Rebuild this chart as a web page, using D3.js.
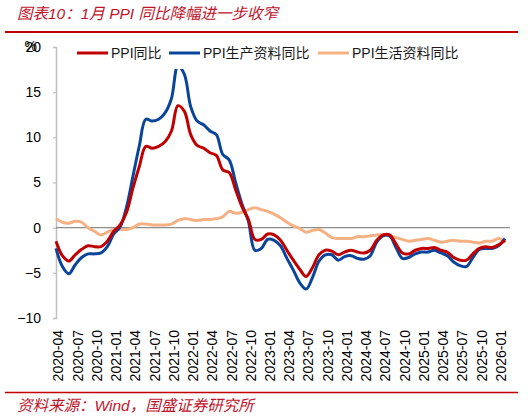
<!DOCTYPE html>
<html>
<head>
<meta charset="utf-8">
<script src="https://cdn.jsdelivr.net/npm/d3@7"></script>
<style>
    body { margin: 0; background: #fff; }
    svg { display: block; font-family: "Liberation Sans", "Noto Sans CJK SC", sans-serif; }
</style>
</head>
<body>
<div id="chart"></div>
<script>
// monthly categories 2020-03 .. 2026-01
const months = d3.timeMonths(new Date(2020, 2, 1), new Date(2026, 1, 1)).map(d3.timeFormat("%Y-%m"));

const tickLabels = ["2020-04", "2020-07", "2020-10", "2021-01", "2021-04", "2021-07", "2021-10",
    "2022-01", "2022-04", "2022-07", "2022-10", "2023-01", "2023-04", "2023-07", "2023-10",
    "2024-01", "2024-04", "2024-07", "2024-10", "2025-01", "2025-04", "2025-07", "2025-10", "2026-01"];

const yTicks = [-10, -5, 0, 5, 10, 15, 20];

const seriesNames = ["PPI同比", "PPI生产资料同比", "PPI生活资料同比"];
const seriesColors = ["#c00000", "#0b4599", "#f5b183"];

const ppi = [
    -1.5, -3.1, -3.7, -3.0, -2.4, -2.0, -2.1, -2.1, -1.5, -0.4,
    0.3, 1.7, 4.4, 6.8, 9.0, 8.8, 9.0, 9.5, 10.7, 13.5, 12.9, 10.3,
    9.1, 8.8, 8.3, 8.0, 6.4, 6.1, 4.2, 2.3, 0.9, -1.3, -1.3, -0.7,
    -0.8, -1.4, -2.5, -3.6, -4.6, -5.4, -4.4, -3.0, -2.5, -2.6, -3.0, -2.7,
    -2.5, -2.7, -2.8, -2.5, -1.4, -0.8, -0.8, -1.8, -2.8, -2.9, -2.5, -2.3,
    -2.3, -2.2, -2.5, -2.7, -3.3, -3.6, -3.6, -2.9, -2.3, -2.1, -2.2, -1.9,
    -1.4
];

const producer = [
    -2.3, -4.3, -5.1, -4.1, -3.3, -2.9, -2.9, -2.8, -2.1, -0.7,
    0.1, 2.3, 5.7, 9.1, 12.0, 11.8, 12.0, 12.7, 14.3, 17.9, 17.0, 13.4,
    11.8, 11.4, 10.7, 10.3, 8.1, 7.5, 5.0, 2.6, 0.7, -2.5, -2.3, -1.3,
    -1.4, -2.0, -3.4, -4.7, -6.1, -6.8, -5.5, -3.7, -3.0, -3.0, -3.6, -3.2,
    -3.1, -3.4, -3.5, -3.1, -1.6, -0.9, -0.9, -2.2, -3.4, -3.3, -2.9, -2.7,
    -2.7, -2.5, -2.8, -3.1, -3.8, -4.2, -4.3, -3.3, -2.4, -2.3, -2.3, -2.0,
    -1.2
];

const consumer = [
    1.0, 0.6, 0.5, 0.7, 0.6, 0.0, -0.4, -0.8, -0.5, -0.2,
    -0.2, -0.2, 0.0, 0.4, 0.4, 0.3, 0.3, 0.3, 0.4, 0.8, 1.0, 0.9,
    0.8, 0.9, 0.9, 1.0, 1.2, 1.8, 1.6, 1.7, 2.0, 2.2, 2.0, 1.8,
    1.5, 1.1, 0.6, 0.2, -0.1, -0.5, -0.3, -0.2, -0.6, -1.1, -1.2, -1.2,
    -1.2, -1.0, -1.0, -0.9, -0.8, -0.8, -0.9, -1.1, -1.3, -1.5, -1.4, -1.3,
    -1.2, -1.4, -1.6, -1.5, -1.4, -1.5, -1.5, -1.6, -1.7, -1.5, -1.5, -1.2,
    -1.6
];

const W = 531, H = 419;
const margin = {top: 47, left: 56, right: 26, bottom: 101};
const plotRight = 505;

const svg = d3.select("#chart").append("svg")
    .attr("width", W)
    .attr("height", H);

// title + rules
svg.append("text")
    .attr("x", 17)
    .attr("y", 19)
    .attr("fill", "#c0142b")
    .attr("font-size", "15.5px")
    .attr("font-style", "italic")
    .text("图表10：1月 PPI 同比降幅进一步收窄");

svg.append("line")
    .attr("x1", 5).attr("x2", 518)
    .attr("y1", 32).attr("y2", 32)
    .attr("stroke", "#c00000")
    .attr("stroke-width", 2);

svg.append("line")
    .attr("x1", 5).attr("x2", 518)
    .attr("y1", 392.5).attr("y2", 392.5)
    .attr("stroke", "#c00000")
    .attr("stroke-width", 1.3);

svg.append("text")
    .attr("x", 17)
    .attr("y", 411)
    .attr("fill", "#c0142b")
    .attr("font-size", "15.5px")
    .attr("font-style", "italic")
    .text("资料来源：Wind，国盛证券研究所");

// scales
const x = d3.scalePoint()
    .domain(months)
    .range([margin.left, plotRight]);

const y = d3.scaleLinear()
    .domain([-10, 20])
    .range([318, 47]);

// y axis
const yAxis = svg.append("g")
    .attr("transform", `translate(${margin.left},0)`)
    .call(d3.axisLeft(y).tickValues(yTicks).tickSize(3).tickPadding(12).tickFormat(d3.format("d")));

yAxis.select(".domain").attr("stroke", "#bfbfbf").attr("stroke-width", 1.5);
yAxis.selectAll(".tick line").attr("stroke", "#bfbfbf").attr("stroke-width", 1.2);
yAxis.selectAll(".tick text")
    .attr("fill", "#000")
    .attr("font-size", "14px")
    .attr("font-family", "Liberation Sans, sans-serif");

// the "%" unit sits right on top of the 20 label
svg.append("text")
    .attr("x", 37)
    .attr("y", y(20))
    .attr("dy", "0.32em")
    .attr("text-anchor", "end")
    .attr("font-size", "14px")
    .attr("fill", "#000")
    .text("%");

// zero line
svg.append("line")
    .attr("x1", margin.left).attr("x2", 510)
    .attr("y1", y(0)).attr("y2", y(0))
    .attr("stroke", "#8c8c8c")
    .attr("stroke-width", 1.2);

// x axis labels, rotated, below the plot
const xAxis = svg.append("g")
    .attr("transform", `translate(0,${y(-10)})`)
    .call(d3.axisBottom(x).tickValues(tickLabels).tickSize(0));

xAxis.select(".domain").remove();
xAxis.selectAll(".tick text")
    .attr("transform", "rotate(-90)")
    .attr("text-anchor", "end")
    .attr("x", -12)
    .attr("y", -4.5)
    .attr("dy", "0.35em")
    .attr("fill", "#000")
    .attr("font-size", "14px")
    .attr("font-family", "Liberation Sans, sans-serif");

// lines
const line = d3.line()
    .x((d, i) => x(months[i]))
    .y(d => y(d))
    .curve(d3.curveCatmullRom.alpha(0.5));

const allSeries = [consumer, producer, ppi];
const drawColors = [seriesColors[2], seriesColors[1], seriesColors[0]];

svg.selectAll("path.series")
    .data(allSeries)
    .enter()
    .append("path")
    .attr("class", "series")
    .attr("d", d => line(d))
    .attr("fill", "none")
    .attr("stroke", (d, i) => drawColors[i])
    .attr("stroke-width", 3)
    .attr("stroke-linejoin", "round");

// legend (white box, sits over the top of the plot)
const legendG = svg.append("g");

legendG.append("rect")
    .attr("x", 59)
    .attr("y", 38)
    .attr("width", 455)
    .attr("height", 31)
    .attr("fill", "#fff");

const legendX = [77, 169, 318];

seriesNames.forEach((name, i) => {
    legendG.append("line")
        .attr("x1", legendX[i]).attr("x2", legendX[i] + 31)
        .attr("y1", 53).attr("y2", 53)
        .attr("stroke", seriesColors[i])
        .attr("stroke-width", 3);

    legendG.append("text")
        .attr("x", legendX[i] + 34)
        .attr("y", 53)
        .attr("dy", "0.36em")
        .attr("font-size", "14px")
        .attr("fill", "#1a1a1a")
        .text(name);
});
</script>
</body>
</html>
